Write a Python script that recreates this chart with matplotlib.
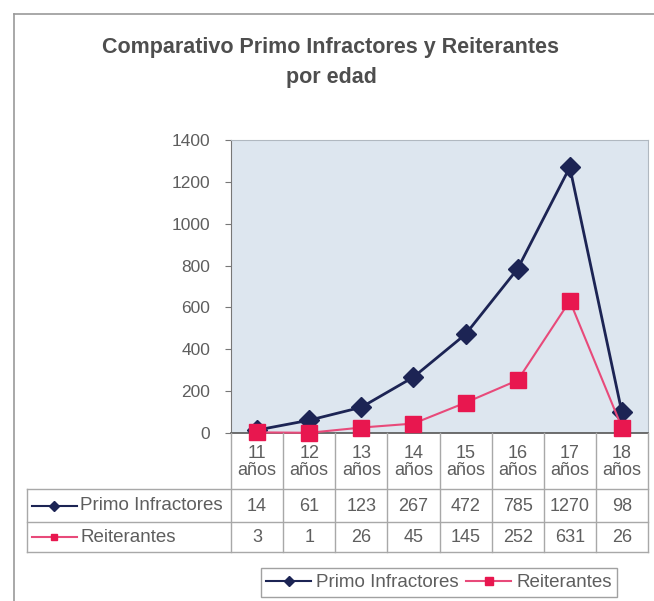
import matplotlib
matplotlib.use("Agg")
import matplotlib.pyplot as plt
from matplotlib.lines import Line2D
from matplotlib.transforms import blended_transform_factory

plt.rcParams['font.family'] = ['Liberation Sans', 'DejaVu Sans']

categories = ["11\naños", "12\naños", "13\naños", "14\naños", "15\naños", "16\naños", "17\naños", "18\naños"]
primo = [14, 61, 123, 267, 472, 785, 1270, 98]
reiter = [3, 1, 26, 45, 145, 252, 631, 26]
series_names = ["Primo Infractores", "Reiterantes"]
yticks = [0, 200, 400, 600, 800, 1000, 1200, 1400]

W, H = 654, 601
fig = plt.figure(figsize=(W / 100, H / 100), dpi=100)
fig.patch.set_facecolor('white')

def fy(py):
    return 1 - py / H

def fx(px):
    return px / W

navy = '#1c2454'
red = '#e8174f'
pink = '#e84a7a'
txt = '#5e5e5e'
grid_c = '#a8a8a8'

ax = fig.add_axes([fx(231), fy(433), fx(648) - fx(231), fy(140) - fy(433)])
ax.set_facecolor('#dde6ef')
x = list(range(len(categories)))
ax.plot(x, primo, color=navy, lw=2, marker='D', ms=10, mfc=navy, mec=navy, zorder=3, clip_on=False)
ax.plot(x, reiter, color=pink, lw=1.5, marker='s', ms=11, mfc=red, mec=red, zorder=3, clip_on=False)
ax.set_xlim(-0.5, len(categories) - 0.5)
ax.set_ylim(0, 1400)
ax.set_yticks(yticks)
ax.set_yticklabels([str(v) for v in yticks], color=txt, fontsize=12.5)
ax.set_xticks([])
ax.tick_params(axis='y', direction='out', length=4, color='#777777', pad=11)
for s in ['top', 'right']:
    ax.spines[s].set_color('#b0b8c0')
    ax.spines[s].set_linewidth(0.8)
ax.spines['left'].set_color('#777777')
ax.spines['bottom'].set_color('#555555')
ax.spines['bottom'].set_linewidth(1.2)

tr = blended_transform_factory(ax.transData, fig.transFigure)

# title
fig.text(fx(331), fy(48), "Comparativo Primo Infractores y Reiterantes", ha='center', va='center',
         fontsize=15.5, fontweight='bold', color='#4e4e4e')
fig.text(fx(331), fy(77), "por edad", ha='center', va='center',
         fontsize=15.5, fontweight='bold', color='#4e4e4e')

# outer frame
fig.add_artist(Line2D([fx(14), 1], [fy(14), fy(14)], color='#9a9a9a', lw=1.2, transform=fig.transFigure))
fig.add_artist(Line2D([fx(14), fx(14)], [fy(14), 0], color='#9a9a9a', lw=1.2, transform=fig.transFigure))

# data table
y_top, y_hdr, y_mid, y_bot = 433, 489, 522, 552
n = len(categories)
for i in range(n + 1):
    fig.add_artist(Line2D([i - 0.5, i - 0.5], [fy(y_top), fy(y_bot)], color=grid_c, lw=1, transform=tr))
for yy in (y_hdr, y_mid, y_bot):
    fig.add_artist(Line2D([fx(27), fx(648)], [fy(yy), fy(yy)], color=grid_c, lw=1, transform=fig.transFigure))
fig.add_artist(Line2D([fx(27), fx(27)], [fy(y_hdr), fy(y_bot)], color=grid_c, lw=1, transform=fig.transFigure))

for i, c in enumerate(categories):
    fig.text(i, fy((y_top + y_hdr) / 2 + 1), c, transform=tr, ha='center', va='center',
             fontsize=13, color=txt, linespacing=1.05)
    fig.text(i, fy((y_hdr + y_mid) / 2 + 1), str(primo[i]), transform=tr, ha='center', va='center',
             fontsize=13, color=txt)
    fig.text(i, fy((y_mid + y_bot) / 2 + 1), str(reiter[i]), transform=tr, ha='center', va='center',
             fontsize=13, color=txt)

# row labels with keys
for (yy0, yy1), name, col, lc, mk in [((y_hdr, y_mid), series_names[0], navy, navy, 'D'),
                                      ((y_mid, y_bot), series_names[1], red, pink, 's')]:
    yc = fy((yy0 + yy1) / 2)
    fig.add_artist(Line2D([fx(32), fx(77)], [yc, yc], color=lc, lw=1.5, transform=fig.transFigure))
    fig.add_artist(Line2D([fx(54)], [yc], color=col, marker=mk, ms=5, mfc=col, mec=col,
                          transform=fig.transFigure))
    fig.text(fx(80), yc, name, ha='left', va='center', fontsize=13.5, color=txt)

# legend
handles = [Line2D([], [], color=navy, lw=1.5, marker='D', ms=5, mfc=navy, mec=navy),
           Line2D([], [], color=pink, lw=1.5, marker='s', ms=6, mfc=red, mec=red)]
leg = fig.legend(handles, series_names, loc='center', bbox_to_anchor=(fx(439), fy(582.5)),
                 ncol=2, frameon=True, fancybox=False, fontsize=13.5, handlelength=2.4,
                 handletextpad=0.27, columnspacing=0.37, borderpad=0.3, borderaxespad=0)
leg.get_frame().set_edgecolor('#8a8a8a')
leg.get_frame().set_linewidth(1)
for t in leg.get_texts():
    t.set_color(txt)

fig.savefig('out.png', dpi=100, facecolor='white')
